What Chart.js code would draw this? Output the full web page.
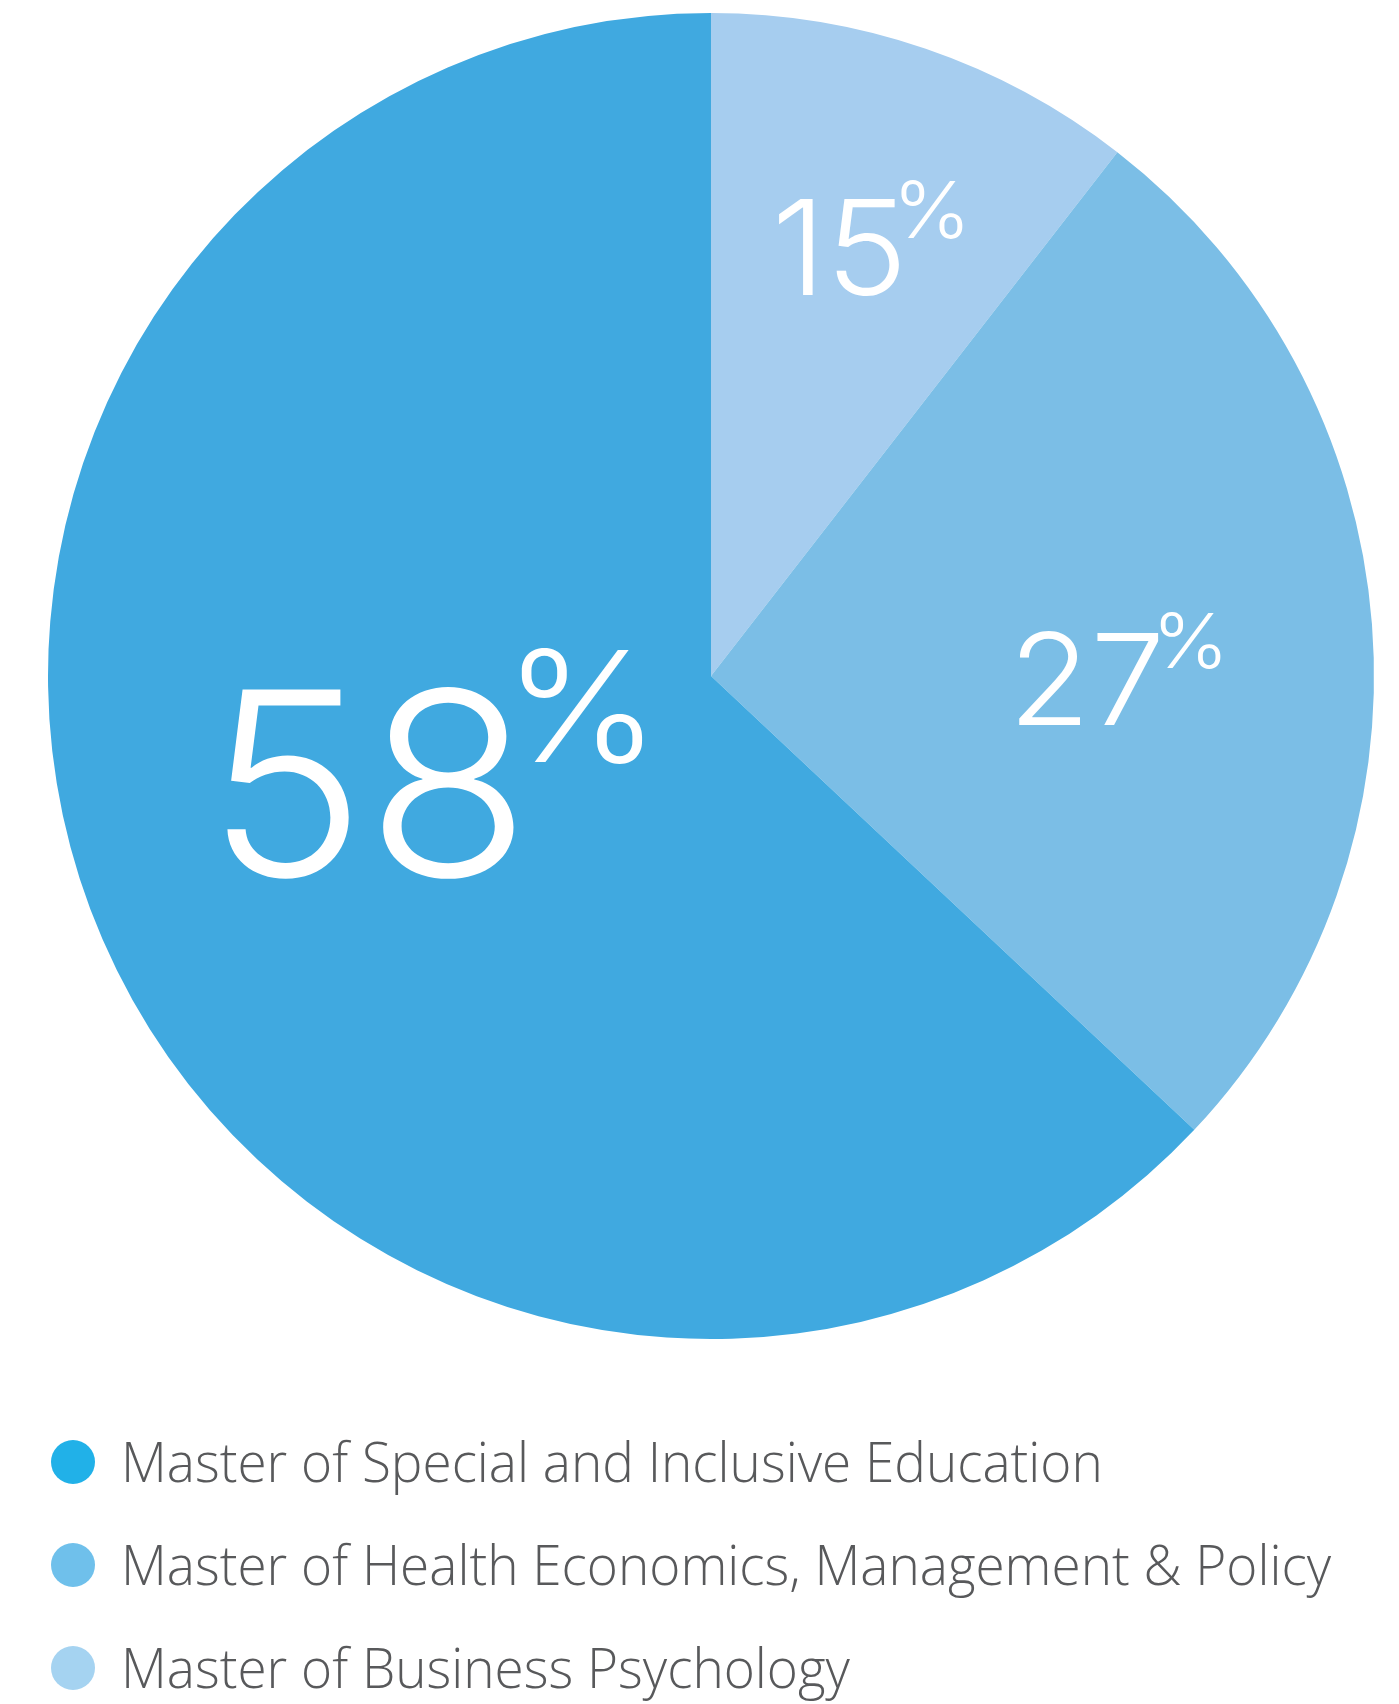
<!DOCTYPE html>
<html>
<head>
<meta charset="utf-8">
<script src="https://cdn.jsdelivr.net/npm/chart.js@4.4.0/dist/chart.umd.min.js"></script>
<style>
html,body{margin:0;padding:0;background:#fff;overflow:hidden;}
#wrap{position:relative;width:1399px;height:1704px;}
</style>
</head>
<body>
<div id="wrap"><canvas id="myChart" width="1399" height="1704"></canvas></div>
<script>
// slices go clockwise from 12 o'clock
var programmes=['Master of Business Psychology','Master of Health Economics, Management & Policy','Master of Special and Inclusive Education'];
var shares=[10.5,26.5,63.0];
var shareLabels=['15','27','58'];
var sliceColors=['#A6CDEF','#7BBEE6','#40A9E0'];
var dotColors=['#A5D3F1','#6FC0EB','#21B1E8'];

// label placement inside each slice (fraction of slice angle, fraction of radius, digit height px)
var labelAngle=[0.44,0.55,0.527];
var labelRadius=[0.675,0.57,0.535];
var labelHeight=[96,94,190];

var numFont='"Inter","Lato","Open Sans",sans-serif';
var legendFont='"Open Sans","Noto Sans",sans-serif';

var pctLabels={
  id:'pctLabels',
  afterDatasetsDraw:function(chart){
    var ctx=chart.ctx;
    var meta=chart.getDatasetMeta(0);
    var digitStretch=1.05, pctStretch=1.08;
    meta.data.forEach(function(arc,i){
      var p=arc.getProps(['x','y','startAngle','endAngle','outerRadius'],true);
      var a=p.startAngle+(p.endAngle-p.startAngle)*labelAngle[i];
      var r=p.outerRadius*labelRadius[i];
      var cx=p.x+Math.cos(a)*r, cy=p.y+Math.sin(a)*r;
      var H=labelHeight[i];
      ctx.save();
      ctx.fillStyle='#ffffff';
      ctx.textBaseline='alphabetic';
      ctx.textAlign='left';
      ctx.font='300 100px '+numFont;
      var m=ctx.measureText(shareLabels[i]);
      var s=H/m.actualBoundingBoxAscent*100;
      ctx.font='300 '+s+'px '+numFont;
      m=ctx.measureText(shareLabels[i]);
      var w=(m.actualBoundingBoxRight+m.actualBoundingBoxLeft)*digitStretch;
      var left=cx-w/2;
      var base=cy+H/2;
      ctx.save();
      ctx.translate(left,base);
      ctx.scale(digitStretch,1);
      ctx.fillText(shareLabels[i],m.actualBoundingBoxLeft,0);
      ctx.restore();
      // superscript percent sign
      var ph=H*0.6;
      ctx.font='300 100px '+numFont;
      var pm=ctx.measureText('%');
      var ps=ph/pm.actualBoundingBoxAscent*100;
      ctx.font='300 '+ps+'px '+numFont;
      pm=ctx.measureText('%');
      var px=left+w+H*0.02;
      var top=base-H-H*0.2;
      ctx.save();
      ctx.translate(px,top+ph);
      ctx.scale(pctStretch,1);
      ctx.fillText('%',pm.actualBoundingBoxLeft,0);
      ctx.restore();
      ctx.restore();
    });
  }
};

var sideLegend={
  id:'sideLegend',
  afterDraw:function(chart){
    var ctx=chart.ctx;
    var o=chart.options.plugins.sideLegend;
    ctx.save();
    ctx.font='300 100px '+legendFont;
    var cap=ctx.measureText('M').actualBoundingBoxAscent;
    var size=o.capHeight/cap*100;
    ctx.font='300 '+size+'px '+legendFont;
    var longest=0;
    programmes.forEach(function(t){longest=Math.max(longest,ctx.measureText(t).width);});
    var sx=o.longestWidth/longest;
    var n=programmes.length;
    for(var k=0;k<n;k++){
      var i=n-1-k;
      var y=o.firstBaseline+k*o.rowPitch;
      ctx.fillStyle=dotColors[i];
      ctx.beginPath();
      ctx.arc(o.dotX,y-o.capHeight/2,o.dotR,0,Math.PI*2);
      ctx.fill();
      ctx.fillStyle='#58595B';
      ctx.save();
      ctx.translate(o.textX,y);
      ctx.scale(sx,1);
      ctx.fillText(programmes[i],0,0);
      ctx.restore();
    }
    ctx.restore();
  }
};

var chart=new Chart(document.getElementById('myChart'),{
  type:'pie',
  data:{
    labels:programmes,
    datasets:[{
      data:shares,
      backgroundColor:sliceColors,
      borderWidth:0
    }]
  },
  options:{
    responsive:false,
    animation:false,
    devicePixelRatio:1,
    layout:{padding:{left:48,top:13,right:25,bottom:365}},
    plugins:{
      legend:{display:false},
      tooltip:{enabled:false},
      sideLegend:{firstBaseline:1482,rowPitch:103,capHeight:40,longestWidth:1210,textX:121,dotX:73,dotR:22}
    }
  },
  plugins:[pctLabels,sideLegend]
});
</script>
</body>
</html>
